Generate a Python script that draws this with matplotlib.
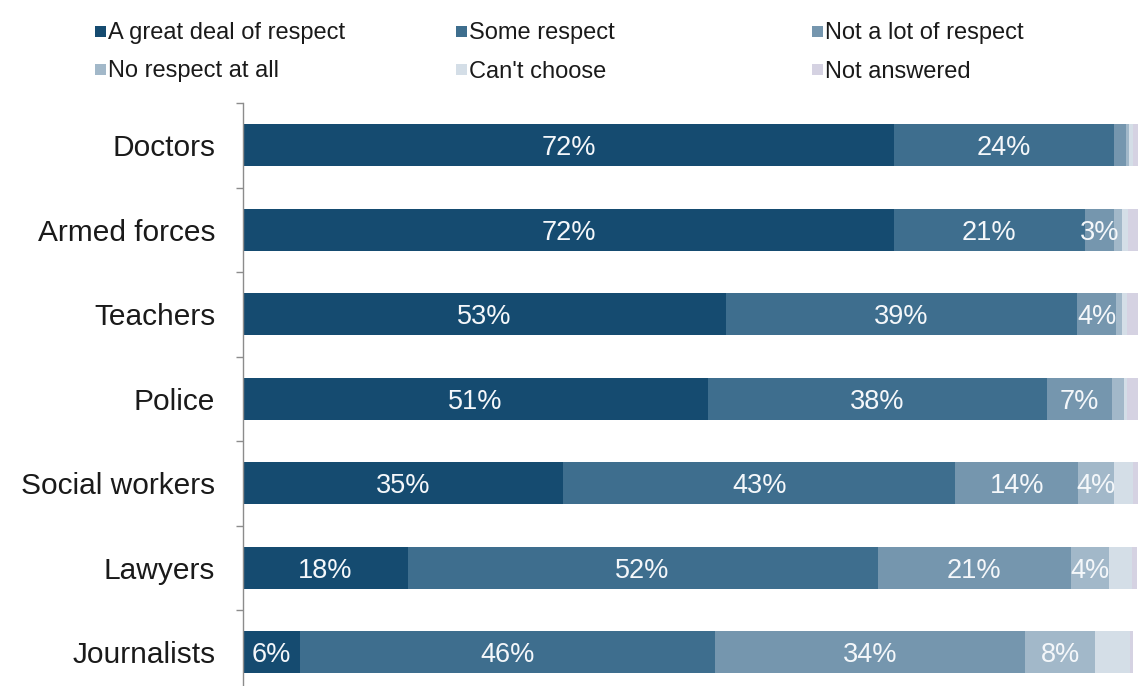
import numpy as np
import matplotlib.pyplot as plt
from matplotlib.patches import Rectangle

plt.rcParams['font.family'] = ['Liberation Sans', 'DejaVu Sans']

categories = ["Doctors", "Armed forces", "Teachers", "Police",
              "Social workers", "Lawyers", "Journalists"]
series_names = ["A great deal of respect", "Some respect", "Not a lot of respect",
                "No respect at all", "Can't choose", "Not answered"]

great_deal = [72.0, 72.0, 53.4, 51.4, 35.4, 18.2, 6.3]
some = [24.3, 21.1, 38.9, 37.5, 43.4, 52.0, 45.9]
not_a_lot = [1.4, 3.3, 4.3, 7.2, 13.6, 21.4, 34.3]
no_respect = [0.3, 0.8, 0.6, 1.4, 3.9, 4.2, 7.8]
cant_choose = [0.4, 0.7, 0.6, 0.3, 2.2, 2.5, 3.8]
not_answered = [0.8, 1.1, 1.2, 1.2, 0.6, 0.6, 0.4]

colors = ["#154b70", "#3e6e8e", "#7596ae", "#a2b8c9", "#d4dee7", "#d5d2e2"]

series = [great_deal, some, not_a_lot, no_respect, cant_choose, not_answered]
labelled = [True, True, True, True, False, False]

fig = plt.figure(figsize=(11.38, 6.86), dpi=100)
ax = fig.add_axes([243 / 1138, -8.5 / 686, 904 / 1138, 591.5 / 686])

y = np.arange(len(categories))
left = np.zeros(len(categories))
for vals, col, lab in zip(series, colors, labelled):
    vals = np.array(vals)
    ax.barh(y, vals, left=left, height=0.5, color=col, linewidth=0)
    if lab:
        for yi, (l, v) in enumerate(zip(left, vals)):
            if v >= 2.5:
                ax.text(l + v / 2, yi, f"{round(v)}%", ha='center', va='center_baseline',
                        color='#f4f7fa', fontsize=19.5)
    left += vals

ax.set_xlim(0, 100)
ax.set_ylim(len(categories) - 0.5, -0.5)
ax.set_yticks(y)
ax.set_yticklabels(categories, fontsize=21.5, color='#1a1a1a')
ax.set_yticks(np.arange(len(categories) + 1) - 0.5, minor=True)
ax.tick_params(axis='y', which='major', length=0, pad=20)
ax.tick_params(axis='y', which='minor', length=5, width=1, color='#8c8c8c', direction='out')
ax.set_xticks([])
for s in ['top', 'right', 'bottom']:
    ax.spines[s].set_visible(False)
ax.spines['left'].set_color('#8c8c8c')
ax.spines['left'].set_linewidth(1)

# legend drawn by hand, row by row
col_x = [95, 456, 812]
row_y = [31, 69]
for i, (name, col) in enumerate(zip(series_names, colors)):
    r, c = divmod(i, 3)
    x0 = col_x[c] / 1138
    yc = 1 - row_y[r] / 686
    fig.patches.append(Rectangle((x0, yc - 5.5 / 686), 11 / 1138, 11 / 686,
                                 transform=fig.transFigure, color=col, linewidth=0))
    fig.text(x0 + 13 / 1138, yc, name, ha='left', va='center_baseline',
             fontsize=17, color='#1a1a1a')

fig.savefig("out.png", dpi=100)
